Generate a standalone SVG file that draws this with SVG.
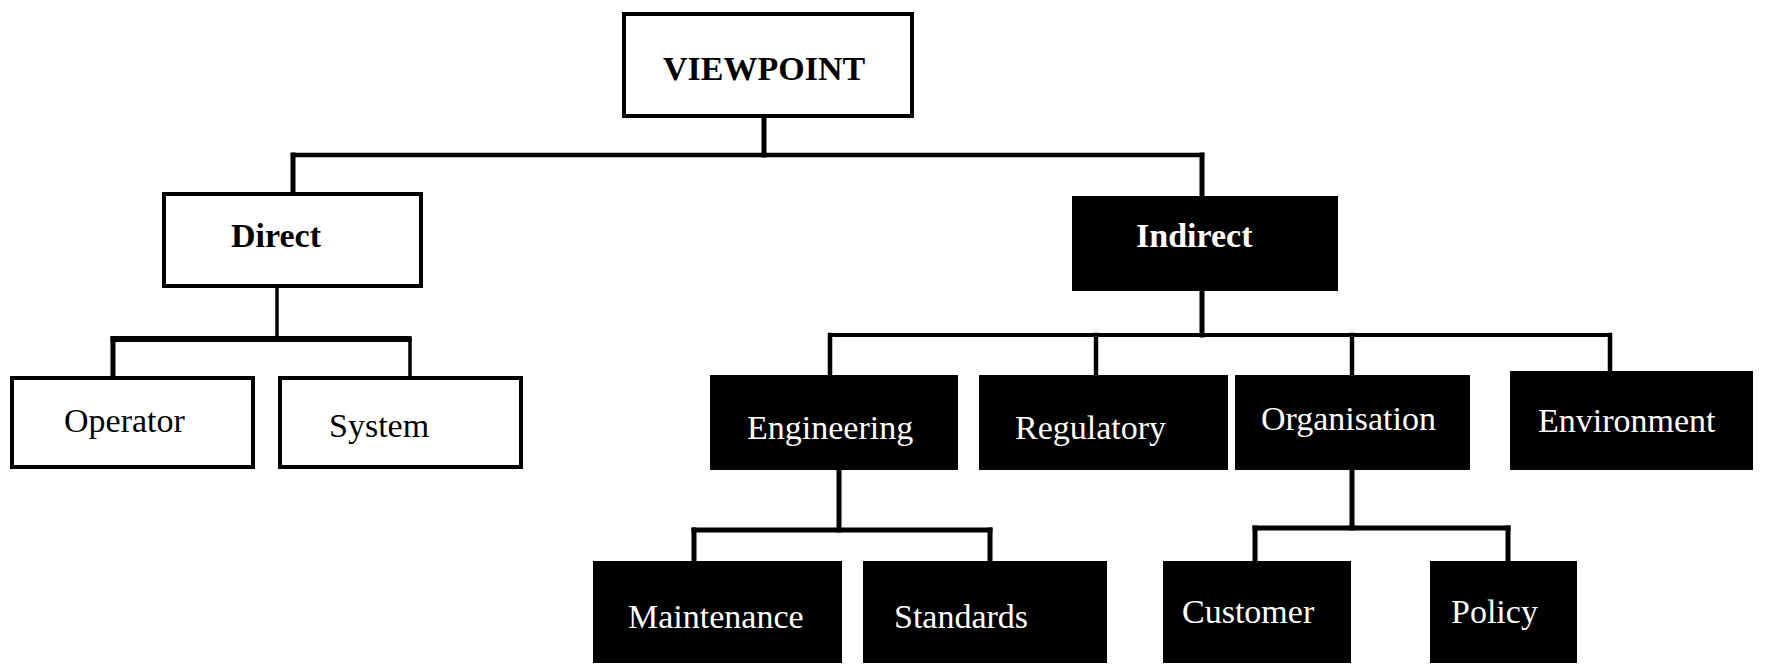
<svg xmlns="http://www.w3.org/2000/svg" width="1772" height="670" viewBox="0 0 1772 670">
<style>
.w{fill:#fff;stroke:#000;stroke-width:4}
.b{fill:#000;stroke:none}
.t{font-family:"Liberation Serif","Times New Roman",serif;font-size:34px;fill:#000}
.tb{font-weight:bold}
.tw{fill:#fff}
.c{stroke:#000;fill:none;stroke-linecap:square}
</style>
<rect width="1772" height="670" fill="#fff"/>
<g id="connectors" class="c">
<path d="M764 118V155" stroke-width="5"/>
<path d="M293 155H1202" stroke-width="4.5"/>
<path d="M293 155V192" stroke-width="5"/>
<path d="M1202 155V196" stroke-width="5"/>
<path d="M277 288V339" stroke-width="3.5"/>
<path d="M110.5 339H411.5" stroke-width="6" stroke-linecap="butt"/>
<path d="M113 339V378" stroke-width="5"/>
<path d="M410 339V378" stroke-width="3.5"/>
<path d="M1202 291V335" stroke-width="5"/>
<path d="M830 335H1610" stroke-width="4"/>
<path d="M830 335V375" stroke-width="4.5"/>
<path d="M1096 335V375" stroke-width="4.5"/>
<path d="M1352 335V375" stroke-width="4.5"/>
<path d="M1610 335V371" stroke-width="4.5"/>
<path d="M839 470V530" stroke-width="5"/>
<path d="M694 530H990" stroke-width="5"/>
<path d="M694 530V561" stroke-width="5"/>
<path d="M990 530V561" stroke-width="5"/>
<path d="M1352 470V528" stroke-width="5"/>
<path d="M1255 528H1508" stroke-width="5"/>
<path d="M1255 528V561" stroke-width="5"/>
<path d="M1508 528V561" stroke-width="5"/>
</g>
<g id="viewpoint"><rect class="w" x="624" y="14" width="288" height="102"/><text class="t tb" x="663" y="80">VIEWPOINT</text></g>
<g id="direct"><rect class="w" x="164" y="194" width="257" height="92"/><text class="t tb" x="231" y="247">Direct</text></g>
<g id="operator"><rect class="w" x="12" y="378" width="241" height="89"/><text class="t" x="64" y="432">Operator</text></g>
<g id="system"><rect class="w" x="280" y="378" width="241" height="89"/><text class="t" x="329" y="437">System</text></g>
<g id="indirect"><rect class="b" x="1072" y="196" width="266" height="95"/><text class="t tb tw" x="1136" y="247">Indirect</text></g>
<g id="engineering"><rect class="b" x="710" y="375" width="248" height="95"/><text class="t tw" x="747" y="439">Engineering</text></g>
<g id="regulatory"><rect class="b" x="979" y="375" width="249" height="95"/><text class="t tw" x="1015" y="439">Regulatory</text></g>
<g id="organisation"><rect class="b" x="1235" y="375" width="235" height="95"/><text class="t tw" x="1261" y="430">Organisation</text></g>
<g id="environment"><rect class="b" x="1510" y="371" width="243" height="99"/><text class="t tw" x="1538" y="432">Environment</text></g>
<g id="maintenance"><rect class="b" x="593" y="561" width="249" height="102"/><text class="t tw" x="628" y="628">Maintenance</text></g>
<g id="standards"><rect class="b" x="863" y="561" width="244" height="102"/><text class="t tw" x="894" y="628">Standards</text></g>
<g id="customer"><rect class="b" x="1163" y="561" width="188" height="102"/><text class="t tw" x="1182" y="623">Customer</text></g>
<g id="policy"><rect class="b" x="1430" y="561" width="147" height="102"/><text class="t tw" x="1451" y="623">Policy</text></g>
</svg>
